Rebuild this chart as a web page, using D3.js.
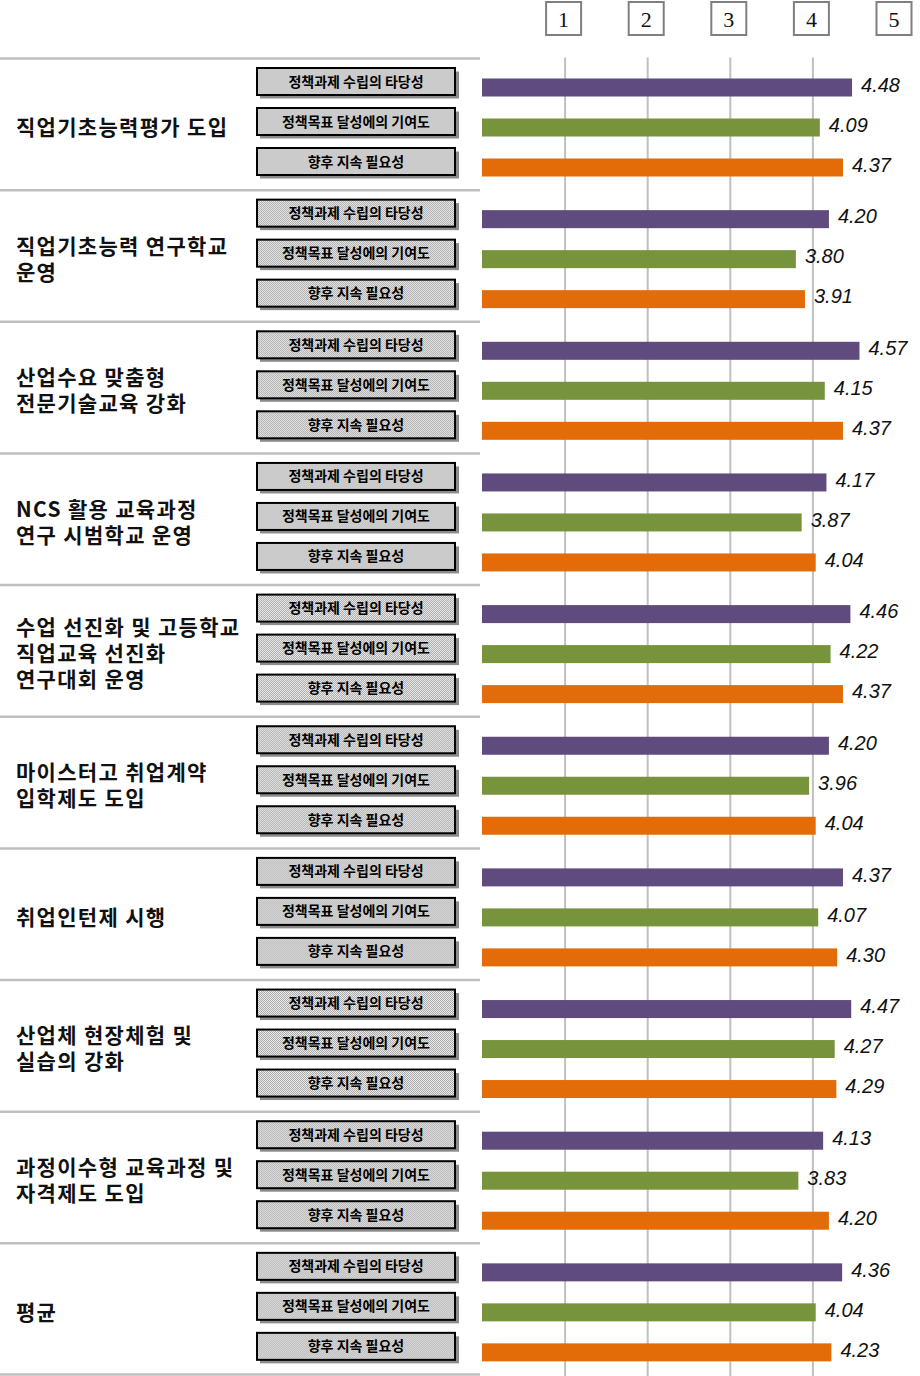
<!DOCTYPE html>
<html>
<head>
<meta charset="utf-8">
<script src="https://cdn.jsdelivr.net/npm/d3@7"></script>
<style>
  body { margin: 0; background: #fff; }
</style>
</head>
<body>
<div id="container"></div>
<script>
// chart data
const groupLabels = [
  ["직업기초능력평가 도입"],
  ["직업기초능력 연구학교", "운영"],
  ["산업수요 맞춤형", "전문기술교육 강화"],
  ["NCS 활용 교육과정", "연구 시범학교 운영"],
  ["수업 선진화 및 고등학교", "직업교육 선진화", "연구대회 운영"],
  ["마이스터고 취업계약", "입학제도 도입"],
  ["취업인턴제 시행"],
  ["산업체 현장체험 및", "실습의 강화"],
  ["과정이수형 교육과정 및", "자격제도 도입"],
  ["평균"]
];
const seriesNames = ["정책과제 수립의 타당성", "정책목표 달성에의 기여도", "향후 지속 필요성"];
const validity = [4.48, 4.20, 4.57, 4.17, 4.46, 4.20, 4.37, 4.47, 4.13, 4.36];
const contribution = [4.09, 3.80, 4.15, 3.87, 4.22, 3.96, 4.07, 4.27, 3.83, 4.04];
const necessity = [4.37, 3.91, 4.37, 4.04, 4.37, 4.04, 4.30, 4.29, 4.20, 4.23];
const scaleTicks = [1, 2, 3, 4, 5];
const gridTicks = [1, 2, 3, 4];

const seriesValues = [validity, contribution, necessity];
const colors = ["#5f4b7d", "#77933c", "#e36c09"];

var width = 920,
  height = 1376,
  marginTop = 58.5;

const svg = d3
  .select("#container")
  .append("svg")
  .attr("width", width)
  .attr("height", height);

// dotted fill for the label boxes
const defs = svg.append("defs");
const pat = defs
  .append("pattern")
  .attr("id", "dots")
  .attr("width", 2)
  .attr("height", 2)
  .attr("patternUnits", "userSpaceOnUse");
pat.append("rect").attr("width", 2).attr("height", 2).attr("fill", "#ededed");
pat.append("rect").attr("width", 1).attr("height", 1).attr("fill", "#a8a8a8");
pat.append("rect").attr("x", 1).attr("y", 1).attr("width", 1).attr("height", 1).attr("fill", "#a8a8a8");

// scales
const x = d3.scaleLinear().domain([0, 5]).range([482, 895]);
const y = d3
  .scaleBand()
  .domain(d3.range(groupLabels.length))
  .range([marginTop, height - 1]);
const row = d3
  .scalePoint()
  .domain(seriesNames)
  .range([26, 106]);

// vertical grid lines
svg
  .append("g")
  .attr("id", "grid")
  .attr("transform", `translate(0,${marginTop - 1})`)
  .call(
    d3
      .axisBottom(x)
      .tickValues(gridTicks)
      .tickSize(height - marginTop + 1)
      .tickFormat("")
  )
  .call(g => g.select(".domain").remove())
  .call(g => g.selectAll("line").attr("stroke", "#c0c0c0").attr("stroke-width", 2));

// header boxes 1..5
const head = svg
  .append("g")
  .attr("id", "header")
  .selectAll("g")
  .data(scaleTicks)
  .enter()
  .append("g")
  .attr("transform", d => `translate(${x(d) - 1},0)`);
head
  .append("rect")
  .attr("x", -17.5)
  .attr("y", 2)
  .attr("width", 35)
  .attr("height", 33)
  .attr("fill", "#fff")
  .attr("stroke", "#7f7f7f")
  .attr("stroke-width", 2);
head
  .append("text")
  .attr("y", 19)
  .attr("dy", "0.36em")
  .attr("text-anchor", "middle")
  .attr("font-family", "Liberation Serif, serif")
  .attr("font-size", "22px")
  .attr("fill", "#111")
  .text(d => d);

// group separators
svg
  .append("g")
  .attr("id", "separators")
  .selectAll("line")
  .data(d3.range(groupLabels.length + 1))
  .enter()
  .append("line")
  .attr("x1", 0)
  .attr("x2", 480)
  .attr("y1", d => (d < groupLabels.length ? y(d) : height - 1.5))
  .attr("y2", d => (d < groupLabels.length ? y(d) : height - 1.5))
  .attr("stroke", "#bfbfbf")
  .attr("stroke-width", 2.5);

const groups = svg
  .append("g")
  .attr("id", "groups")
  .selectAll("g")
  .data(groupLabels)
  .enter()
  .append("g")
  .attr("transform", (d, i) => `translate(0,${y(i)})`);

// category labels on the left
groups
  .append("text")
  .attr("font-family", "Noto Sans CJK KR, sans-serif")
  .attr("font-weight", 700)
  .attr("font-size", "21px")
  .attr("letter-spacing", "1.3px")
  .attr("fill", "#111")
  .each(function(lines) {
    const t = d3.select(this);
    const lh = 26;
    const c = y.bandwidth() / 2 + 3;
    lines.forEach((s, k) => {
      t.append("tspan")
        .attr("x", 16)
        .attr("y", c + (k - (lines.length - 1) / 2) * lh)
        .attr("dy", "0.36em")
        .text(s);
    });
  });

// rows: label box + bar + value
const rows = groups
  .selectAll("g.row")
  .data((d, i) =>
    seriesNames.map((name, s) => ({ name: name, s: s, value: seriesValues[s][i] }))
  )
  .enter()
  .append("g")
  .attr("class", "row")
  .attr("transform", d => `translate(0,${row(d.name)})`);

rows
  .append("rect")
  .attr("x", 260)
  .attr("y", -13)
  .attr("width", 199)
  .attr("height", 27)
  .attr("fill", "#8c8c8c");
rows
  .append("rect")
  .attr("x", 257)
  .attr("y", -16.5)
  .attr("width", 198)
  .attr("height", 27)
  .attr("fill", "url(#dots)")
  .attr("stroke", "#000")
  .attr("stroke-width", 2);
rows
  .append("text")
  .attr("x", 356)
  .attr("y", -3)
  .attr("dy", "0.36em")
  .attr("text-anchor", "middle")
  .attr("font-family", "Noto Sans CJK KR, sans-serif")
  .attr("font-weight", 700)
  .attr("font-size", "14px")
  .attr("fill", "#000")
  .text(d => d.name);

rows
  .append("rect")
  .attr("x", x(0))
  .attr("y", -6)
  .attr("width", d => x(d.value) - x(0))
  .attr("height", 18)
  .attr("fill", d => colors[d.s]);

rows
  .append("text")
  .attr("x", d => x(d.value) + 9)
  .attr("y", 0)
  .attr("dy", "0.36em")
  .attr("font-family", "Liberation Sans Narrow, Liberation Sans, sans-serif")
  .attr("font-style", "italic")
  .attr("font-size", "20px")
  .attr("fill", "#111")
  .text(d => d.value.toFixed(2));
</script>
</body>
</html>
